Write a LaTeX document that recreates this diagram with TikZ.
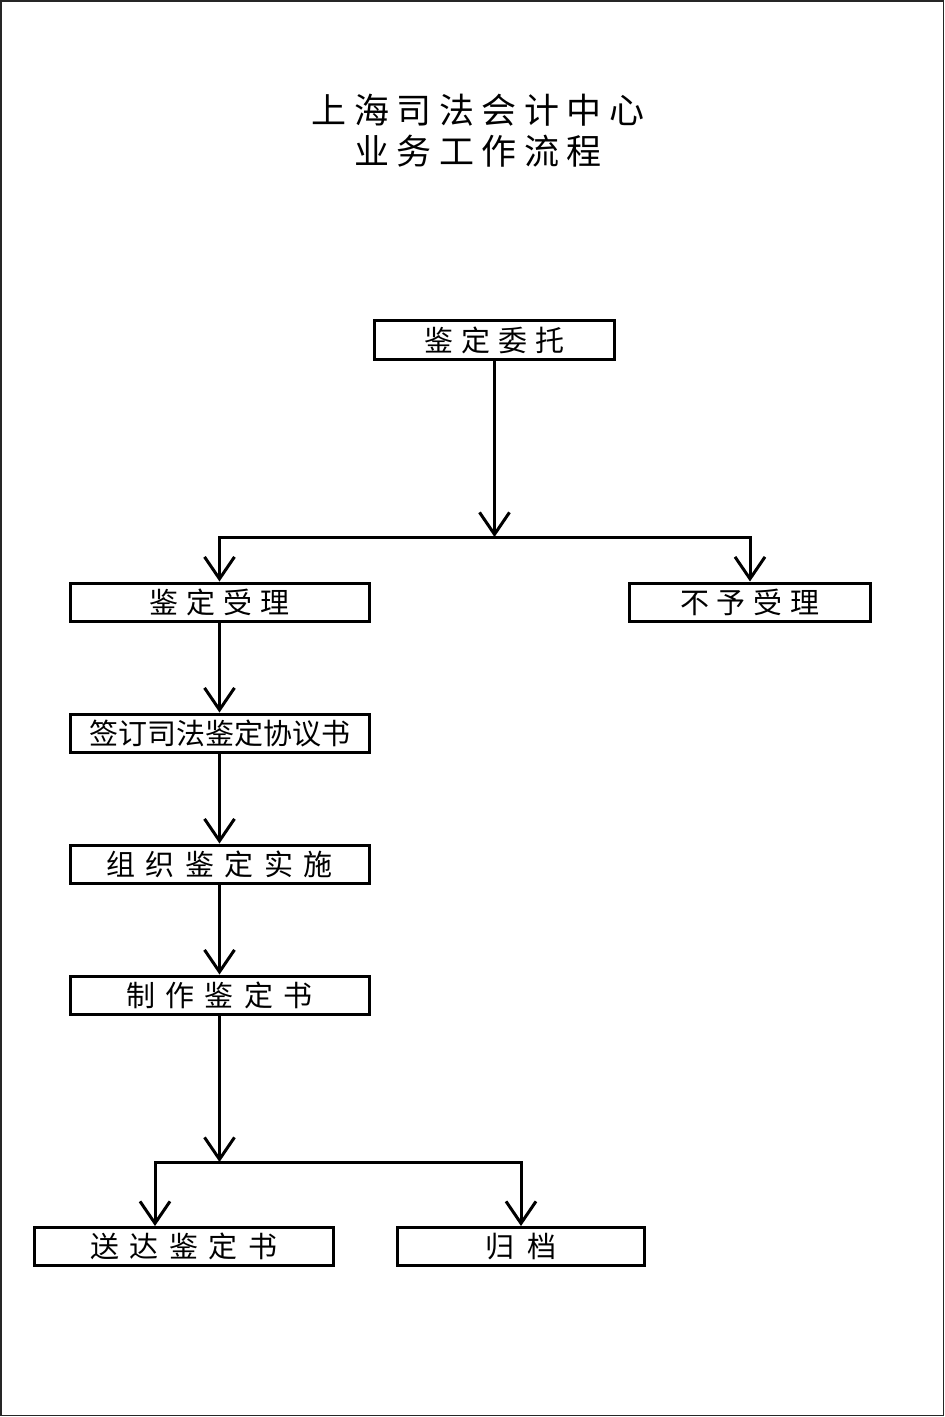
\documentclass[tikz,border=0pt]{standalone}
\usepackage{fontspec}
\newfontfamily\cjk{Noto Sans CJK SC}
\usetikzlibrary{arrows.meta}
\newcommand\gq{\kern\lsgap}
\def\lsgap{8pt}
\begin{document}
\begin{tikzpicture}[x=1pt,y=-1pt,
  box/.style={draw,line width=3pt,inner sep=0pt,minimum height=38pt,font=\cjk\fontsize{29}{29}\selectfont},
  conn/.style={line width=3pt},
  arr/.style={line width=3pt,-{Straight Barb[length=22pt,width=30pt]}},
  ttl/.style={font=\cjk\fontsize{35}{35}\selectfont,inner sep=0pt}]
\useasboundingbox (0,0) rectangle (945,1417);
\draw[line width=1.2pt,black!85] (1,1) rectangle (943.5,1415.5);
% title
\node[ttl] (t1) at (478,110) {\def\lsgap{7.5pt}上\gq 海\gq 司\gq 法\gq 会\gq 计\gq 中\gq 心};
\node[ttl] (t2) at (478,151) {\def\lsgap{7.5pt}业\gq 务\gq 工\gq 作\gq 流\gq 程};
% boxes
\node[box,minimum width=240pt,minimum height=39pt] (wt) at (494.5,340) {\def\lsgap{8pt}鉴\gq 定\gq 委\gq 托};
\node[box,minimum width=299pt] (sl) at (219.5,602) {\def\lsgap{8pt}鉴\gq 定\gq 受\gq 理};
\node[box,minimum width=241pt] (bs) at (750,602) {\def\lsgap{8pt}不\gq 予\gq 受\gq 理};
\node[box,minimum width=299pt] (qd) at (219.5,733) {签订司法鉴定协议书};
\node[box,minimum width=299pt] (zz) at (219.5,864) {\def\lsgap{10.5pt}组\gq 织\gq 鉴\gq 定\gq 实\gq 施};
\node[box,minimum width=299pt] (zs) at (219.5,995) {\def\lsgap{10.5pt}制\gq 作\gq 鉴\gq 定\gq 书};
\node[box,minimum width=299pt] (sd) at (184,1246.5) {\def\lsgap{10.5pt}送\gq 达\gq 鉴\gq 定\gq 书};
\node[box,minimum width=247pt] (gd) at (521,1246.5) {\def\lsgap{14pt}归\gq 档};
% junctions
\coordinate (j1) at (494.5,537);
\coordinate (j1l) at (sl.north |- j1);
\coordinate (j1r) at (bs.north |- j1);
\coordinate (j2) at (219.5,1162);
\coordinate (j2l) at (155,1162);
\coordinate (j2r) at (gd.north |- j2);
% connectors
\draw[arr] (wt.south) -- (j1);
\draw[conn,line cap=rect] (j1l) -- (j1r);
\draw[arr] (j1l) -- (sl.north);
\draw[arr] (j1r) -- (bs.north);
\draw[arr] (sl.south) -- (qd.north);
\draw[arr] (qd.south) -- (zz.north);
\draw[arr] (zz.south) -- (zs.north);
\draw[arr] (zs.south) -- (j2);
\draw[conn,line cap=rect] (j2l) -- (j2r);
\draw[arr] (j2l) -- (j2l |- sd.north);
\draw[arr] (j2r) -- (gd.north);
\end{tikzpicture}
\end{document}
